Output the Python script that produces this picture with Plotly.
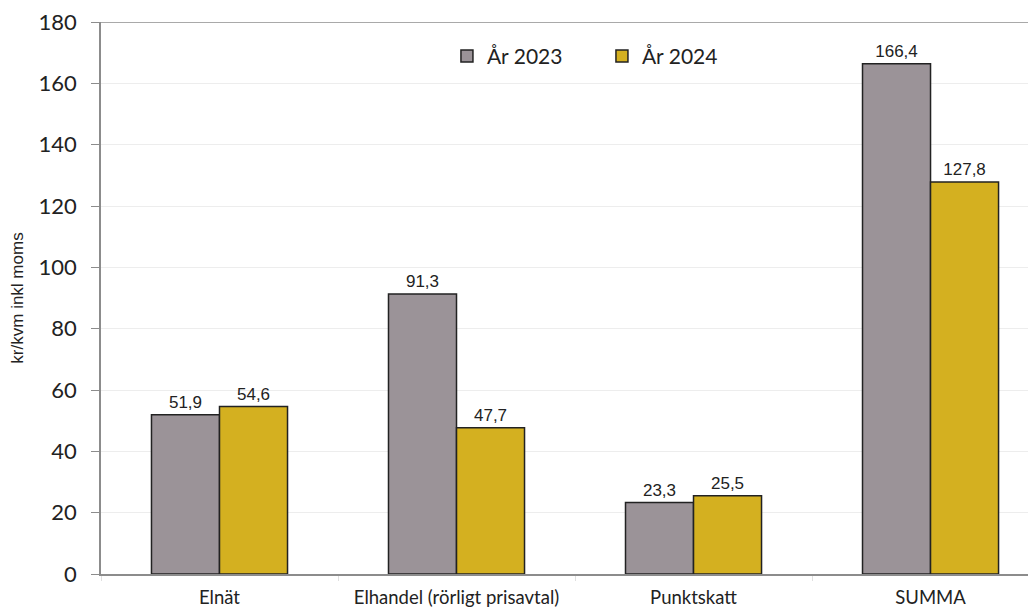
import plotly.graph_objects as go

categories = ["Elnät", "Elhandel (rörligt prisavtal)", "Punktskatt", "SUMMA"]
series_names = ["År 2023", "År 2024"]
values_2023 = [51.9, 91.3, 23.3, 166.4]
values_2024 = [54.6, 47.7, 25.5, 127.8]
y_ticks = [0, 20, 40, 60, 80, 100, 120, 140, 160, 180]

colors = ["#9B9398", "#D4B020"]

fig = go.Figure()
for name, vals, col in zip(series_names, [values_2023, values_2024], colors):
    fig.add_trace(go.Bar(
        x=categories, y=vals, name=name,
        marker=dict(color=col, line=dict(color="#222222", width=1.5)),
        texttemplate="%{y:.1f}", textposition="outside", cliponaxis=False,
        textfont=dict(family="Liberation Sans, Arial", size=17, color="#222222"),
    ))

fig.update_layout(
    width=1036, height=607,
    margin=dict(l=93, r=8, t=14, b=41, autoexpand=False),
    paper_bgcolor="white", plot_bgcolor="white",
    barmode="group", bargap=0.426, bargroupgap=0,
    separators=", ",
    showlegend=True,
    legend=dict(orientation="h", x=0.37, y=0.975, xanchor="left", yanchor="top",
                font=dict(family="Lato, Noto Sans", size=21, color="#222222"),
                bgcolor="rgba(0,0,0,0)", itemwidth=30, entrywidth=110, tracegroupgap=0),
    xaxis=dict(
        range=[-0.5, 3.445], showline=True, linecolor="#8C8C8C", linewidth=1.5,
        mirror=False, ticks="outside", tickson="boundaries", ticklen=5,
        tickcolor="#E0E0E0", tickfont=dict(family="Lato, Noto Sans", size=18.5, color="#222222"),
        showgrid=False, ticklabelstandoff=6, automargin=False,
    ),
    yaxis=dict(
        range=[0, 180.01], tickvals=y_ticks, showline=True, linecolor="#8C8C8C", linewidth=1.5,
        ticks="outside", ticklen=8, tickcolor="#8C8C8C",
        showgrid=True, gridcolor="#EDEDED", gridwidth=1, zeroline=False,
        tickfont=dict(family="Lato, Noto Sans", size=22, color="#222222"),
        ticklabelstandoff=10, automargin=False, ticklabeloverflow="allow",
        title=dict(text="kr/kvm inkl moms", standoff=14,
                   font=dict(family="Liberation Sans, Arial", size=17, color="#222222")),
    ),
)
fig.add_shape(type="line", xref="paper", yref="y", x0=0, x1=1, y0=180, y1=180,
              line=dict(color="#8C8C8C", width=1.5), layer="above")

fig.write_html("out.html")
